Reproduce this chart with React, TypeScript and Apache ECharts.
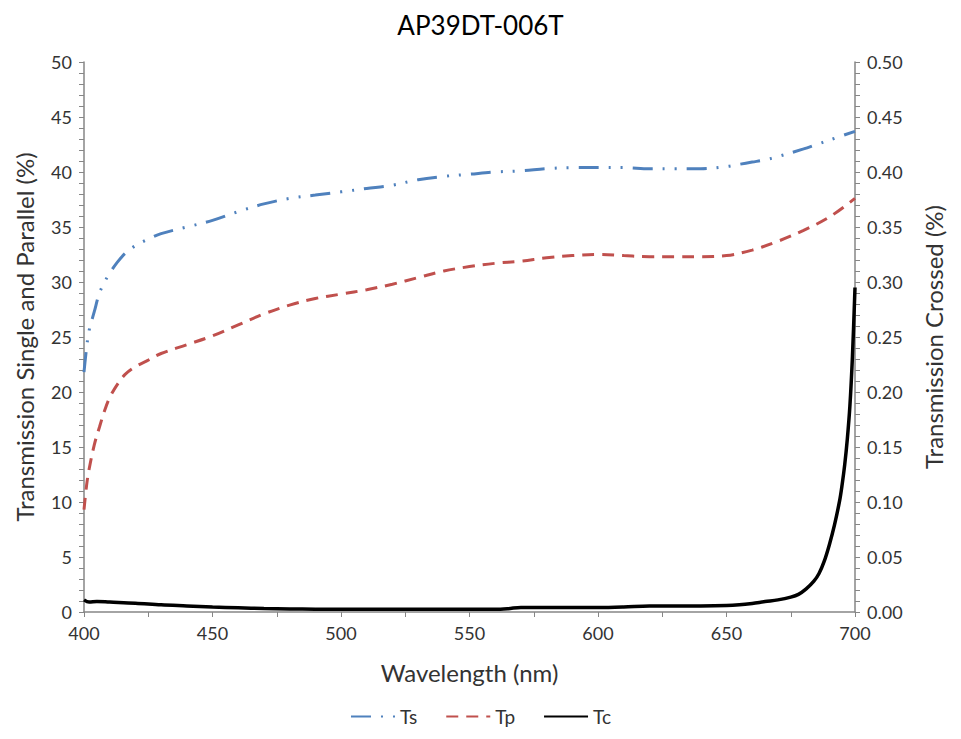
import React, { useEffect, useRef } from "react";
import * as echarts from "echarts";

const tsWave = [400, 401, 402, 404, 406, 408, 410, 413, 416, 420, 425, 430, 440, 450, 460, 470, 480, 490, 500, 510, 520, 530, 540, 550, 560, 570, 580, 590, 600, 610, 620, 630, 640, 650, 655, 660, 665, 670, 680, 685, 690, 700];
const tsVals = [21.8, 24.0, 25.6, 27.3, 29.0, 30.0, 30.8, 31.8, 32.6, 33.3, 33.9, 34.4, 35.0, 35.6, 36.4, 37.1, 37.6, 37.9, 38.2, 38.5, 38.8, 39.3, 39.6, 39.8, 40.0, 40.1, 40.3, 40.4, 40.4, 40.4, 40.3, 40.3, 40.3, 40.5, 40.7, 40.9, 41.1, 41.4, 42.1, 42.5, 42.9, 43.7];

const tpWave = [400, 401, 402, 404, 406, 408, 410, 413, 416, 420, 425, 430, 440, 450, 460, 470, 480, 490, 500, 510, 520, 530, 540, 550, 560, 570, 580, 590, 600, 610, 620, 630, 640, 650, 660, 670, 680, 690, 700];
const tpVals = [9.3, 11.5, 13.0, 15.2, 16.8, 18.3, 19.5, 20.7, 21.6, 22.3, 22.9, 23.5, 24.3, 25.1, 26.1, 27.1, 27.9, 28.5, 28.9, 29.3, 29.8, 30.4, 31.0, 31.4, 31.7, 31.9, 32.2, 32.4, 32.5, 32.4, 32.3, 32.3, 32.3, 32.4, 32.9, 33.7, 34.7, 35.9, 37.6];

const tcWave = [400, 402, 405, 410, 420, 430, 440, 450, 460, 470, 480, 490, 500, 520, 540, 560, 565, 570, 580, 590, 600, 610, 620, 630, 640, 650, 655, 660, 665, 670, 675, 678, 681, 684, 686, 688, 690, 692, 694, 695, 696, 697, 698, 699, 700];
const tcVals = [0.011, 0.009, 0.0095, 0.009, 0.008, 0.0065, 0.0055, 0.0045, 0.0038, 0.0032, 0.0028, 0.0026, 0.0025, 0.0025, 0.0024, 0.0024, 0.003, 0.0042, 0.0042, 0.004, 0.004, 0.0045, 0.0055, 0.0055, 0.0055, 0.0058, 0.0065, 0.0078, 0.0095, 0.011, 0.0135, 0.016, 0.021, 0.028, 0.035, 0.046, 0.061, 0.079, 0.101, 0.116, 0.134, 0.157, 0.187, 0.232, 0.295];

const FONT = "Lato";
const TXT = "#333333";
const AX = "#868686";

export default function App() {
  const ref = useRef<HTMLDivElement>(null);
  useEffect(() => {
    const chart = echarts.init(ref.current!, null, { renderer: "svg" });
    const zip = (w: number[], v: number[]) => w.map((x, i) => [x, v[i]]);
    const yCommon = {
      type: "value",
      nameLocation: "middle",
      nameTextStyle: { fontFamily: FONT, fontSize: 24, color: TXT },
      axisLine: { show: true, lineStyle: { color: AX, width: 1.5 } },
      axisTick: { show: true, length: 5, lineStyle: { color: AX } },
      minorTick: { show: true, splitNumber: 5, length: 5, lineStyle: { color: AX } },
      splitLine: { show: false },
      axisLabel: { fontFamily: FONT, fontSize: 18, color: TXT, margin: 12 },
    };
    chart.setOption({
      animation: false,
      backgroundColor: "#fff",
      title: {
        text: "AP39DT-006T",
        left: "center",
        top: 7,
        textStyle: { fontFamily: FONT, fontSize: 26, fontWeight: "normal", color: "#000" },
      },
      legend: {
        bottom: 8,
        left: "center",
        itemWidth: 44,
        itemGap: 28,
        itemStyle: { opacity: 0 },
        textStyle: { fontFamily: FONT, fontSize: 19, color: TXT },
        data: ["Ts", "Tp", "Tc"],
      },
      grid: { left: 84, right: 106, top: 62, bottom: 127 },
      xAxis: {
        type: "value",
        min: 400,
        max: 700,
        interval: 50,
        name: "Wavelength (nm)",
        nameLocation: "middle",
        nameGap: 48,
        nameTextStyle: { fontFamily: FONT, fontSize: 24, color: TXT },
        axisLine: { show: true, lineStyle: { color: AX, width: 1.5 } },
        axisTick: { show: true, length: 5, lineStyle: { color: AX } },
        minorTick: { show: true, splitNumber: 2, length: 5, lineStyle: { color: AX } },
        splitLine: { show: false },
        axisLabel: { fontFamily: FONT, fontSize: 18, color: TXT, margin: 12 },
      },
      yAxis: [
        {
          ...yCommon,
          min: 0,
          max: 50,
          interval: 5,
          position: "left",
          name: "Transmission Single and Parallel (%)",
          nameGap: 48,
        },
        {
          ...yCommon,
          min: 0,
          max: 0.5,
          interval: 0.05,
          position: "right",
          name: "Transmission Crossed (%)",
          nameGap: 66,
          axisLabel: {
            fontFamily: FONT,
            fontSize: 18,
            color: TXT,
            margin: 12,
            formatter: (v: number) => v.toFixed(2),
          },
        },
      ],
      series: [
        {
          name: "Ts",
          type: "line",
          yAxisIndex: 0,
          data: zip(tsWave, tsVals),
          smooth: 0.35,
          symbol: "none",
          lineStyle: { color: "#4F81BD", width: 3, type: [20, 10, 2, 10, 2, 10] },
          itemStyle: { color: "#4F81BD" },
        },
        {
          name: "Tp",
          type: "line",
          yAxisIndex: 0,
          data: zip(tpWave, tpVals),
          smooth: 0.35,
          symbol: "none",
          lineStyle: { color: "#C0504D", width: 3, type: [12, 8] },
          itemStyle: { color: "#C0504D" },
        },
        {
          name: "Tc",
          type: "line",
          yAxisIndex: 1,
          data: zip(tcWave, tcVals),
          smooth: 0.35,
          symbol: "none",
          lineStyle: { color: "#000", width: 3.5 },
          itemStyle: { color: "#000" },
        },
      ],
    });
    return () => chart.dispose();
  }, []);
  return <div ref={ref} style={{ width: 961, height: 739, position: "absolute", left: 0, top: 0 }} />;
}
